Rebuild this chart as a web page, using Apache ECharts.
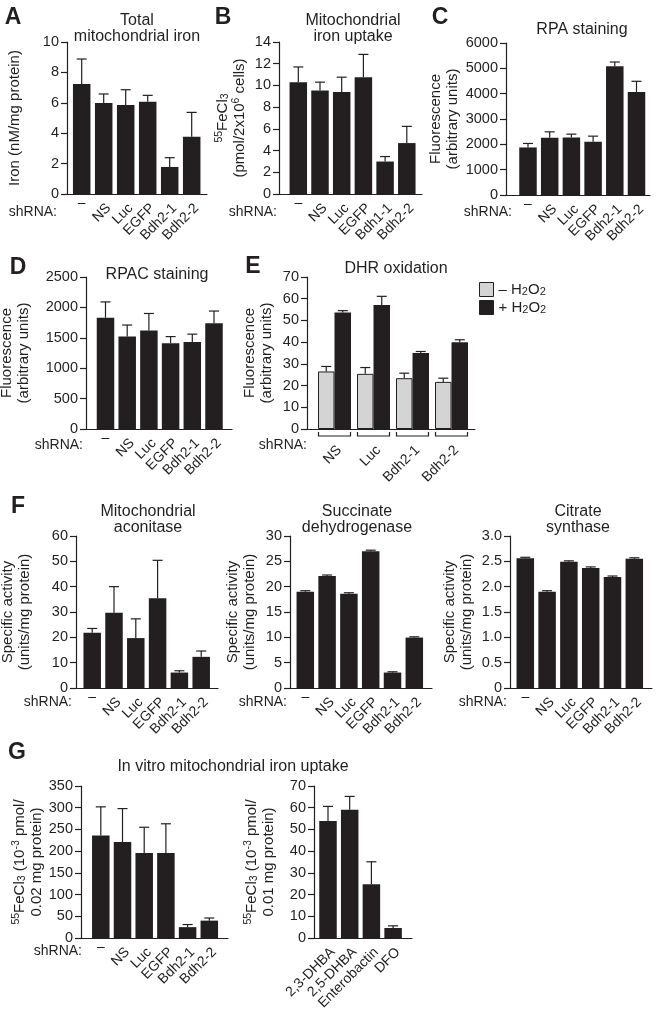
<!DOCTYPE html>
<html><head><meta charset="utf-8">
<script src="https://cdn.jsdelivr.net/npm/echarts@6/dist/echarts.min.js"></script>
<style>html,body{margin:0;padding:0;background:#fff}#c{width:659px;height:1014px}</style>
</head><body><div id="c"></div>
<script>
// ---------------- DATA ----------------
const shrnaCats  = ['–','NS','Luc','EGFP','Bdh2-1','Bdh2-2'];
const shrnaCatsB = ['–','NS','Luc','EGFP','Bdh1-1','Bdh2-2'];
const dhrCats    = ['NS','Luc','Bdh2-1','Bdh2-2'];
const chelCats   = ['2,3-DHBA','2,5-DHBA','Enterobactin','DFO'];

const totalIron      = [7.24, 5.99, 5.86, 6.07, 1.78, 3.77];
const totalIronSd    = [1.64, 0.59, 1.00, 0.42, 0.61, 1.60];
const ironUptake     = [10.3, 9.53, 9.40, 10.76, 2.99, 4.69];
const ironUptakeSd   = [1.40, 0.77, 1.36, 2.10, 0.46, 1.54];
const rpa            = [1877, 2257, 2270, 2100, 5079, 4068];
const rpaSd          = [157, 236, 132, 223, 170, 420];
const rpac           = [1830, 1520, 1620, 1410, 1430, 1740];
const rpacSd         = [260, 190, 280, 110, 130, 200];
const dhrMinus       = [26.5, 25.4, 23.4, 21.7];
const dhrMinusSd     = [2.3, 2.9, 2.3, 1.7];
const dhrPlus        = [53.7, 57.1, 35.0, 39.9];
const dhrPlusSd      = [0.8, 4.0, 0.7, 1.2];
const aconitase      = [21.8, 29.7, 19.7, 35.4, 6.1, 12.3];
const aconitaseSd    = [1.7, 10.3, 7.6, 15.0, 0.7, 2.3];
const sdh            = [19.0, 22.1, 18.6, 27.0, 3.05, 9.95];
const sdhSd          = [0.2, 0.2, 0.2, 0.2, 0.15, 0.15];
const citrate        = [2.56, 1.90, 2.49, 2.37, 2.19, 2.55];
const citrateSd      = [0.02, 0.02, 0.02, 0.02, 0.02, 0.02];
const invitroShrna   = [236, 221, 196, 196, 25, 40];
const invitroShrnaSd = [66, 77, 59, 67, 6, 6];
const invitroChel    = [53.9, 59.1, 24.7, 4.6];
const invitroChelSd  = [6.7, 6.1, 10.4, 1.0];

const legendNames = {minus:'– H{sub|2}O{sub|2}', plus:'+ H{sub|2}O{sub|2}'};

// ---------------- STYLE ----------------
const FONT = "'Liberation Sans', Arial, Helvetica, sans-serif";
const INK = '#231f20';
const GRAY = '#d4d4d4';
const LW = 1.2;
const richScript = {
  sup:{fontSize:10.5, lineHeight:6, verticalAlign:'top', color:INK, fontFamily:FONT},
  sub:{fontSize:10.5, lineHeight:6, verticalAlign:'bottom', color:INK, fontFamily:FONT}
};
const richLegend = {
  sub:{fontSize:11, lineHeight:3, verticalAlign:'bottom', color:INK, fontFamily:FONT}
};

const panels = [
  {cats: shrnaCats, left:67, top:42, width:140, height:152, c0:81.7, sp:22, max:10, interval:2,
   name:'Iron (nM/mg protein)', nameGap:44,
   series:[{vals: totalIron, sd: totalIronSd}]},
  {cats: shrnaCatsB, left:279, top:42, width:143, height:152, c0:298.3, sp:21.7, max:14, interval:2,
   name:'{sup|55}FeCl{sub|3}\n(pmol/2x10{sup|6} cells)', nameGap:31,
   series:[{vals: ironUptake, sd: ironUptakeSd}]},
  {cats: shrnaCats, left:506, top:43, width:144, height:152, c0:528, sp:21.7, max:6000, interval:1000,
   name:'Fluorescence\n(arbitrary units)', nameGap:44,
   series:[{vals: rpa, sd: rpaSd}]},
  {cats: shrnaCats, left:86, top:277, width:146, height:152, c0:105.5, sp:21.7, max:2500, interval:500,
   name:'Fluorescence\n(arbitrary units)', nameGap:54,
   series:[{vals: rpac, sd: rpacSd}]},
  {cats: dhrCats, left:307, top:277, width:168, height:152, c0:334.5, sp:39, max:70, interval:10,
   name:'Fluorescence\n(arbitrary units)', nameGap:32, labelMargin:14, brackets:true,
   series:[{name:'minus', vals: dhrMinus, sd: dhrMinusSd, color: GRAY, border:true, width:16.5},
           {name:'plus', vals: dhrPlus, sd: dhrPlusSd, width:16.5}]},
  {cats: shrnaCats, left:76, top:536, width:142, height:152, c0:92.2, sp:21.8, max:60, interval:10,
   name:'Specific activity\n(units/mg protein)', nameGap:43,
   series:[{vals: aconitase, sd: aconitaseSd}]},
  {cats: shrnaCats, left:290, top:536, width:142, height:152, c0:305.3, sp:21.8, max:30, interval:5,
   name:'Specific activity\n(units/mg protein)', nameGap:32,
   series:[{vals: sdh, sd: sdhSd}]},
  {cats: shrnaCats, left:510, top:536, width:142, height:152, c0:525.3, sp:21.8, max:3, interval:0.5,
   name:'Specific activity\n(units/mg protein)', nameGap:35, oneDecimal:true,
   series:[{vals: citrate, sd: citrateSd}]},
  {cats: shrnaCats, left:81, top:786, width:147, height:152, c0:100.8, sp:21.7, max:350, interval:50,
   name:'{sup|55}FeCl{sub|3} (10{sup|-3} pmol/\n0.02 mg protein)', nameGap:34,
   series:[{vals: invitroShrna, sd: invitroShrnaSd}]},
  {cats: chelCats, left:314, top:786, width:98, height:152, c0:328, sp:21.7, max:70, interval:10,
   name:'{sup|55}FeCl{sub|3} (10{sup|-3} pmol/\n0.01 mg protein)', nameGap:37,
   series:[{vals: invitroChel, sd: invitroChelSd}]}
];

const grids = [], xAxes = [], yAxes = [], series = [];
const txt = {fontSize:14, color:INK, fontFamily:FONT};
const tickTxt = {fontSize:14.5, color:INK, fontFamily:FONT};

panels.forEach((p) => {
  const g = grids.length;
  grids.push({left:p.left, top:p.top, width:p.width, height:p.height, containLabel:false, outerBoundsMode:'none'});
  const xmin = -(p.c0 - p.left) / p.sp;
  const xmax = xmin + p.width / p.sp;
  const xi = xAxes.length;
  const idx = p.cats.map((_, i) => i);
  xAxes.push({type:'value', gridIndex:g, position:'bottom', min:xmin, max:xmax,
    axisLine:{show:true, onZero:false, lineStyle:{color:INK, width:LW}},
    axisTick:{show:false}, splitLine:{show:false},
    axisLabel:Object.assign({customValues: idx, rotate:45, margin:p.labelMargin || 7,
      align:'right', verticalAlign:'top',
      formatter:(v) => { const c = p.cats[Math.round(v)]; return c === '–' ? '' : c; }}, txt)});
  if (p.cats[0] === '–') {
    xAxes.push({type:'value', gridIndex:g, position:'bottom', offset:0, min:xmin, max:xmax,
      axisLine:{show:false, onZero:false}, axisTick:{show:false}, splitLine:{show:false},
      axisLabel:Object.assign({customValues:[0], margin:2, formatter:() => '–'}, txt)});
  }
  const yi = yAxes.length;
  yAxes.push({type:'value', gridIndex:g, position:'left', min:0, max:p.max, interval:p.interval,
    axisLine:{show:true, onZero:false, lineStyle:{color:INK, width:LW}},
    axisTick:{show:true, length:6, lineStyle:{color:INK, width:LW}},
    splitLine:{show:false},
    axisLabel:Object.assign({margin:8, formatter:(v) => p.oneDecimal ? (v === 0 ? '0' : v.toFixed(1)) : String(v)}, tickTxt),
    name:p.name, nameLocation:'middle', nameRotate:90, nameGap:p.nameGap,
    nameTextStyle:{fontSize:15, color:INK, fontFamily:FONT, lineHeight:17, rich:richScript}});

  const n = p.series.length;
  p.series.forEach((s, k) => {
    const w = s.width || 17.5;
    const off = n === 1 ? 0 : (k - (n - 1) / 2) * w;
    series.push({type:'bar', name:s.name, xAxisIndex:xi, yAxisIndex:yi, silent:true,
      barWidth:w, barGap:'0%',
      data:s.vals.map((v, i) => [i, v]),
      itemStyle:{color:s.color || INK, borderColor:INK, borderWidth:s.border ? 1 : 0}});
    series.push({type:'custom', xAxisIndex:xi, yAxisIndex:yi, silent:true, clip:false, z:3,
      data:s.vals.map((v, i) => [i, v, v + s.sd[i]]),
      renderItem:(params, api) => {
        const a = api.coord([api.value(0), api.value(1)]);
        const b = api.coord([api.value(0), api.value(2)]);
        const x = a[0] + off;
        const st = {stroke:INK, lineWidth:LW};
        return {type:'group', children:[
          {type:'line', shape:{x1:x, y1:a[1], x2:x, y2:b[1]}, style:st},
          {type:'line', shape:{x1:x - 5, y1:b[1], x2:x + 5, y2:b[1]}, style:st}
        ]};
      }});
  });
  if (p.brackets) {
    series.push({type:'custom', xAxisIndex:xi, yAxisIndex:yi, silent:true, clip:false,
      data:p.cats.map((_, i) => [i, 0]),
      renderItem:(params, api) => {
        const c = api.coord([api.value(0), 0]);
        return {type:'polyline', shape:{points:[[c[0]-16, c[1]+3],[c[0]-16, c[1]+7],[c[0]+16, c[1]+7],[c[0]+16, c[1]+3]]},
          style:{stroke:INK, lineWidth:LW, fill:null}};
      }});
  }
});

// ---------------- TEXT (titles, letters, row labels) ----------------
const titles = [
  {t:'Total\nmitochondrial iron', x:137, y:29},
  {t:'Mitochondrial\niron uptake', x:353, y:29},
  {t:'RPA staining', x:582, y:30},
  {t:'RPAC staining', x:157, y:275},
  {t:'DHR oxidation', x:396, y:269},
  {t:'Mitochondrial\naconitase', x:148, y:520},
  {t:'Succinate\ndehydrogenase', x:357, y:520},
  {t:'Citrate\nsynthase', x:578, y:520},
  {t:'In vitro mitochondrial iron uptake', x:233, y:767}
];
const letters = [
  {t:'A', x:13, y:18}, {t:'B', x:223, y:18}, {t:'C', x:440, y:18},
  {t:'D', x:18, y:268}, {t:'E', x:253, y:267}, {t:'F', x:18, y:507}, {t:'G', x:17, y:753}
];
const rowLabels = [
  {x:57, y:212}, {x:277, y:212}, {x:512, y:212},
  {x:83, y:445}, {x:307, y:445},
  {x:72, y:702}, {x:287, y:702}, {x:507, y:702},
  {x:82, y:951}
];
const graphic = [];
titles.forEach(o => graphic.push({type:'text', x:o.x, y:o.y, silent:true,
  style:{text:o.t, align:'center', verticalAlign:'middle', fill:INK, fontSize:16, fontFamily:FONT, lineHeight:16}}));
letters.forEach(o => graphic.push({type:'text', x:o.x, y:o.y, silent:true,
  style:{text:o.t, align:'center', verticalAlign:'middle', fill:INK, fontSize:23, fontWeight:'bold', fontFamily:FONT}}));
rowLabels.forEach(o => graphic.push({type:'text', x:o.x, y:o.y, silent:true,
  style:{text:'shRNA:', align:'right', verticalAlign:'middle', fill:INK, fontSize:14, fontFamily:FONT}}));

const chart = echarts.init(document.getElementById('c'), null, {renderer:'canvas', width:659, height:1014});
chart.setOption({
  animation:false,
  backgroundColor:'#fff',
  grid:grids, xAxis:xAxes, yAxis:yAxes, series:series,
  legend:{data:['minus','plus'], orient:'vertical', left:479, top:282, itemWidth:14, itemHeight:14, itemGap:3,
    icon:'rect', selectedMode:false, padding:0,
    formatter:(name) => legendNames[name],
    itemStyle:{borderColor:INK, borderWidth:1},
    textStyle:{fontSize:15, color:INK, fontFamily:FONT, lineHeight:15, rich:richLegend}},
  graphic:graphic
});
</script></body></html>
